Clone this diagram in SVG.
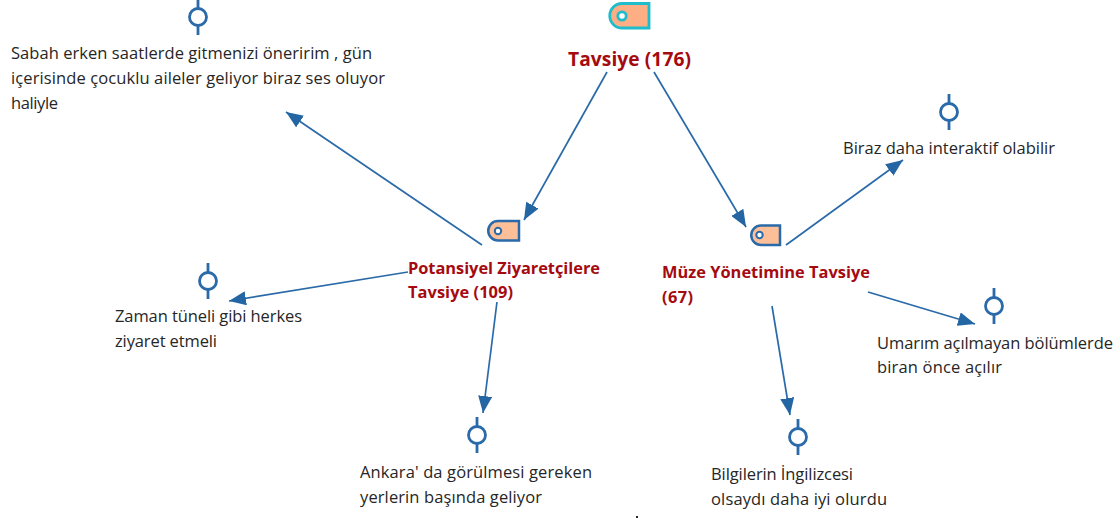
<svg xmlns="http://www.w3.org/2000/svg" width="1120" height="518" viewBox="0 0 1120 518">
<style>
text{font-family:"Open Sans","Noto Sans","Liberation Sans",sans-serif}
.t{font-size:16.5px;fill:#262626}
.c{font-size:16.4px;font-weight:700;fill:#a50a10}
.big{font-size:19.2px}
.tag{fill:#fdbf98;stroke:#2a6aa8;stroke-width:2.5}
.hole{fill:#fff;stroke:#2a6aa8;stroke-width:2}
.q{fill:#fff;stroke:#2a6aa8;stroke-width:2.8}
.s{stroke:#2a6aa8;stroke-width:2.8;fill:none}
.e{stroke:#2a6aa8;stroke-width:1.7;fill:none;marker-end:url(#a)}
</style>
<defs>
<marker id="a" markerUnits="userSpaceOnUse" markerWidth="18" markerHeight="14" refX="17" refY="7" orient="auto"><path d="M0 0L17 7L0 14z" fill="#2465a3"/></marker>
<symbol id="quote" overflow="visible"><path class="s" d="M0-18V-8M0 8V18"/><circle class="q" cx="0" cy="0" r="8.500"/></symbol>
</defs>
<g id="connectors">
<path class="e" d="M607 72L524 220"/>
<path class="e" d="M654 72L746 227"/>
<path class="e" d="M482 245L286 112"/>
<path class="e" d="M408 272L229 301"/>
<path class="e" d="M497 302L483 413"/>
<path class="e" d="M786 245L903 160"/>
<path class="e" d="M868 292L975 324"/>
<path class="e" d="M772 306L790 415"/>
</g>
<g id="n-tavsiye"><path d="M622 3.500H649V28H622A12.200 12.200 0 0 1 622 3.500Z" fill="#fdae85" stroke="#1fbccb" stroke-width="2.800"/><circle cx="622" cy="16" r="4.200" fill="#fff" stroke="#1fbccb" stroke-width="2.800"/><text class="c big" x="568" y="66" textLength="123">Tavsiye (176)</text></g>
<g id="n-potansiyel"><path class="tag" d="M498 221H519V240.500H498A9.750 9.750 0 0 1 498 221Z"/><circle class="hole" cx="498" cy="231" r="3.200"/><text class="c" x="408" y="274" textLength="192">Potansiyel Ziyaretçilere</text><text class="c" x="408" y="298" textLength="105">Tavsiye (109)</text></g>
<g id="n-muze"><path class="tag" d="M761 225.500H780V245H761A9.750 9.750 0 0 1 761 225.500Z"/><circle class="hole" cx="759.500" cy="235" r="3.200"/><text class="c" x="662" y="278" textLength="208">Müze Yönetimine Tavsiye</text><text class="c" x="662" y="303" textLength="31">(67)</text></g>
<g id="n-sabah"><use href="#quote" x="198" y="17"/><text class="t" x="11" y="59" textLength="361">Sabah erken saatlerde gitmenizi öneririm , gün</text><text class="t" x="11" y="84" textLength="374">içerisinde çocuklu aileler geliyor biraz ses oluyor</text><text class="t" x="11" y="109" textLength="47">haliyle</text></g>
<g id="n-zaman"><use href="#quote" x="208" y="281"/><text class="t" x="115" y="322" textLength="187">Zaman tüneli gibi herkes</text><text class="t" x="115" y="347" textLength="102">ziyaret etmeli</text></g>
<g id="n-ankara"><use href="#quote" x="477" y="435"/><text class="t" x="360" y="478" textLength="232">Ankara' da görülmesi gereken</text><text class="t" x="360" y="503" textLength="182">yerlerin başında geliyor</text></g>
<g id="n-bilgi"><use href="#quote" x="798" y="437"/><text class="t" x="711" y="480" textLength="142">Bilgilerin İngilizcesi</text><text class="t" x="711" y="505" textLength="176">olsaydı daha iyi olurdu</text></g>
<g id="n-biraz"><use href="#quote" x="949" y="112"/><text class="t" x="843" y="154" textLength="212">Biraz daha interaktif olabilir</text></g>
<g id="n-umarim"><use href="#quote" x="994" y="306"/><text class="t" x="877" y="349" textLength="236">Umarım açılmayan bölümlerde</text><text class="t" x="877" y="373" textLength="125">biran önce açılır</text></g>
<rect x="636" y="516" width="2" height="2" fill="#262626"/>
</svg>
